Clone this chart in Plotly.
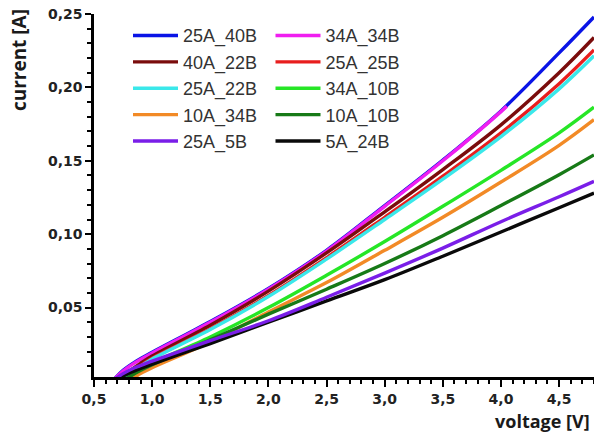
import plotly.graph_objects as go

# ---- data ----
v_25A_40B = [0.66, 0.75, 0.85, 1.0, 1.5, 2.0, 2.5, 3.0, 3.5, 4.0, 4.5, 4.8]
i_25A_40B = [0.0, 0.0072, 0.0128, 0.0195, 0.0405, 0.0630, 0.0890, 0.1195, 0.1505, 0.1840, 0.2235, 0.2480]

v_34A_34B = [0.66, 0.75, 0.85, 1.0, 1.5, 2.0, 2.5, 3.0, 3.5, 4.0, 4.05]
i_34A_34B = [0.0, 0.0068, 0.0123, 0.0190, 0.0400, 0.0625, 0.0885, 0.1190, 0.1500, 0.1835, 0.1872]

v_40A_22B = [0.70, 0.80, 0.90, 1.0, 1.5, 2.0, 2.5, 3.0, 3.5, 4.0, 4.5, 4.8]
i_40A_22B = [0.0, 0.0065, 0.0120, 0.0170, 0.0380, 0.0612, 0.0872, 0.1152, 0.1440, 0.1745, 0.2100, 0.2340]

v_25A_25B = [0.72, 0.82, 0.92, 1.0, 1.5, 2.0, 2.5, 3.0, 3.5, 4.0, 4.5, 4.8]
i_25A_25B = [0.0, 0.0062, 0.0115, 0.0155, 0.0355, 0.0582, 0.0840, 0.1115, 0.1395, 0.1690, 0.2025, 0.2255]

v_25A_22B = [0.72, 0.82, 0.92, 1.0, 1.5, 2.0, 2.5, 3.0, 3.5, 4.0, 4.5, 4.8]
i_25A_22B = [0.0, 0.0060, 0.0110, 0.0150, 0.0350, 0.0575, 0.0830, 0.1100, 0.1375, 0.1665, 0.1990, 0.2215]

v_34A_10B = [0.75, 0.85, 0.95, 1.0, 1.5, 2.0, 2.5, 3.0, 3.5, 4.0, 4.5, 4.8]
i_34A_10B = [0.0, 0.0050, 0.0098, 0.0122, 0.0300, 0.0500, 0.0720, 0.0950, 0.1190, 0.1435, 0.1690, 0.1865]

v_10A_34B = [0.80, 0.90, 1.0, 1.5, 2.0, 2.5, 3.0, 3.5, 4.0, 4.5, 4.8]
i_10A_34B = [0.0, 0.0050, 0.0090, 0.0265, 0.0470, 0.0670, 0.0890, 0.1115, 0.1355, 0.1605, 0.1780]

v_10A_10B = [0.75, 0.85, 1.0, 1.5, 2.0, 2.5, 3.0, 3.5, 4.0, 4.5, 4.8]
i_10A_10B = [0.0, 0.0050, 0.0110, 0.0280, 0.0455, 0.0625, 0.0800, 0.0990, 0.1195, 0.1405, 0.1540]

v_25A_5B = [0.66, 0.75, 0.85, 1.0, 1.5, 2.0, 2.5, 3.0, 3.5, 4.0, 4.5, 4.8]
i_25A_5B = [0.0, 0.0050, 0.0090, 0.0135, 0.0275, 0.0410, 0.0570, 0.0735, 0.0905, 0.1085, 0.1255, 0.1360]

v_5A_24B = [0.68, 0.78, 0.90, 1.0, 1.5, 2.0, 2.5, 3.0, 3.5, 4.0, 4.5, 4.8]
i_5A_24B = [0.0, 0.0045, 0.0085, 0.0115, 0.0255, 0.0400, 0.0545, 0.0690, 0.0850, 0.1015, 0.1180, 0.1280]

x_ticks = [0.5, 1.0, 1.5, 2.0, 2.5, 3.0, 3.5, 4.0, 4.5]
y_ticks = [0.05, 0.10, 0.15, 0.20, 0.25]

# (name, x, y, color, legend, rank) in drawing order
series = [
    ("25A_40B", v_25A_40B, i_25A_40B, "#0a14e6", "legend", 1),
    ("34A_34B", v_34A_34B, i_34A_34B, "#f01ef0", "legend2", 1),
    ("40A_22B", v_40A_22B, i_40A_22B, "#7a0c0c", "legend", 2),
    ("25A_25B", v_25A_25B, i_25A_25B, "#e81e1e", "legend2", 2),
    ("25A_22B", v_25A_22B, i_25A_22B, "#3ae8ea", "legend", 3),
    ("34A_10B", v_34A_10B, i_34A_10B, "#26e626", "legend2", 3),
    ("10A_34B", v_10A_34B, i_10A_34B, "#f28a26", "legend", 4),
    ("10A_10B", v_10A_10B, i_10A_10B, "#177a17", "legend2", 4),
    ("5A_24B", v_5A_24B, i_5A_24B, "#0a0a0a", "legend2", 5),
    ("25A_5B", v_25A_5B, i_25A_5B, "#7a1ee8", "legend", 5),
]

fig = go.Figure()
for name, xs, ys, col, leg, rank in series:
    fig.add_trace(go.Scatter(
        x=xs, y=ys, mode="lines", name=name,
        line=dict(color=col, width=3.4, shape="spline", smoothing=1.0),
        legend=leg, legendrank=rank,
    ))

legend_common = dict(
    orientation="v", xanchor="left", yanchor="top",
    bgcolor="rgba(0,0,0,0)", font=dict(family="Liberation Sans", size=18, color="#333333"),
    itemwidth=45, tracegroupgap=0, traceorder="normal",
)

fig.update_layout(
    width=594, height=434,
    margin=dict(l=94, r=0, t=14, b=57),
    paper_bgcolor="white", plot_bgcolor="white",
    separators=",.",
    showlegend=True,
    legend=dict(x=0.068, y=0.991, **legend_common),
    legend2=dict(x=0.353, y=0.991, **legend_common),
    xaxis=dict(
        range=[0.5, 4.8], tickvals=x_ticks, tickformat=".1f",
        showgrid=False, zeroline=False, showline=True, linecolor="black", linewidth=2.5,
        ticks="outside", ticklen=7, tickwidth=2, tickcolor="black",
        minor=dict(dtick=0.1, ticks="outside", ticklen=4, tickwidth=1.5, tickcolor="black"),
        tickfont=dict(family="DejaVu Sans", size=14, color="#222222", weight="bold"),
    ),
    yaxis=dict(
        range=[0.0027, 0.25], tickvals=y_ticks, tickformat=".2f",
        showgrid=False, zeroline=False, showline=True, linecolor="black", linewidth=2.5,
        ticks="outside", ticklen=6, tickwidth=2, tickcolor="black",
        minor=dict(dtick=0.01, tick0=0, ticks="outside", ticklen=4, tickwidth=1.5, tickcolor="black"),
        tickfont=dict(family="DejaVu Sans", size=14, color="#222222", weight="bold"),
    ),
    annotations=[
        dict(text="current [A]", xref="paper", yref="paper", x=0, y=0.873, xshift=-75,
             textangle=-90, showarrow=False, xanchor="center", yanchor="middle",
             font=dict(family="Open Sans", size=19, color="#1a1a1a", weight="bold")),
        dict(text="voltage [V]", xref="paper", yref="paper", x=0.993, y=-0.121,
             showarrow=False, xanchor="right", yanchor="middle", borderpad=0,
             font=dict(family="Open Sans", size=18, color="#1a1a1a", weight="bold")),
    ],
)

fig.write_html("out.html")
